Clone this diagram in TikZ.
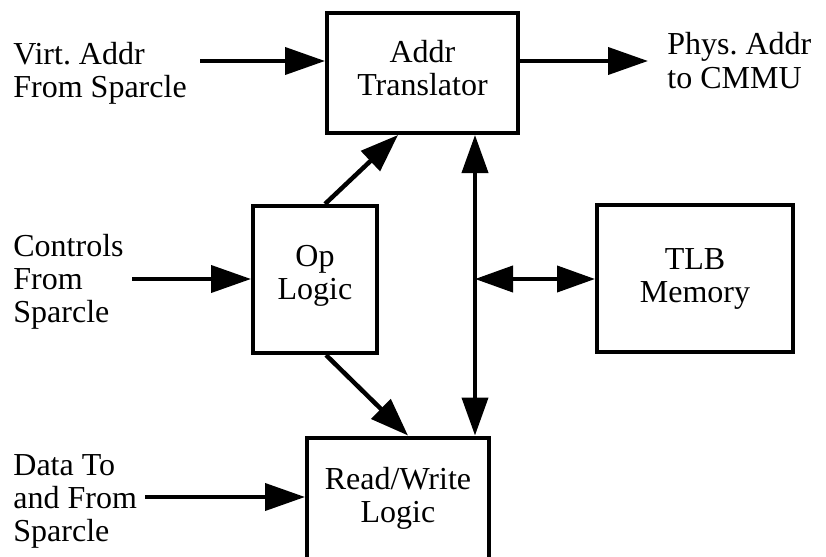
\documentclass[tikz,border=0pt]{standalone}
\usepackage{fontspec}
\setmainfont{Liberation Serif}
\usetikzlibrary{arrows.meta,calc}
\frenchspacing
\begin{document}
\begin{tikzpicture}[x=0.5pt,y=-0.5pt,
  every node/.style={font=\fontsize{16pt}{16.5pt}\selectfont},
  block/.style={draw,line width=2pt,align=center,inner sep=0pt},
  label/.style={align=left,inner sep=0pt,anchor=north west},
  arr/.style={line width=2pt,-{Triangle[length=20pt,width=13.5pt]}},
  arrtwo/.style={line width=2pt,{Triangle[length=19pt,width=13pt]}-{Triangle[length=19pt,width=13pt]}},
  diag/.style={line width=2.25pt,-{Triangle[length=19pt,width=13.5pt]}}]
  \useasboundingbox[fill=white] (0,0) rectangle (826,557);
  \clip (0,0) rectangle (826,557);

  % functional blocks (the trailing empty line lifts the text a little)
  \node[block,minimum width=95.5pt,minimum height=60pt] (addr) at (422.5,73) {Addr\\Translator\\[-11.5pt]\mbox{}};
  \node[block,minimum width=62pt,minimum height=73.5pt] (op) at (315,279.5) {Op\\Logic\\[-9pt]\mbox{}};
  \node[block,minimum width=98pt,minimum height=73.5pt] (tlb) at (695,278.5) {TLB\\Memory};
  \node[block,minimum width=91pt,minimum height=61pt] (rw) at (398,498.5) {Read/Write\\Logic};

  % external signal labels
  \node[label] (virt) at (13,42) {Virt. Addr\\From Sparcle};
  \node[label] (phys) at (667,32) {Phys. Addr\\[0.5pt]to CMMU};
  \node[label] (ctrl) at (13,234) {Controls\\From\\Sparcle};
  \node[label] (data) at (13,454) {Data To\\and From\\Sparcle};

  % free ends and the bus junction
  \coordinate (virtS) at (200,61);
  \coordinate (physE) at (648,61);
  \coordinate (ctrlS) at (132,279);
  \coordinate (dataS) at (145,497);
  \coordinate (bus) at (475,279);

  % connectors
  \draw[arr] (virtS) -- (virtS -| addr.west);
  \draw[arr] (physE -| addr.east) -- (physE);
  \draw[arr] (ctrlS) -- (ctrlS -| op.west);
  \draw[arr] (dataS) -- (dataS -| rw.west);
  \draw[diag] ($(op.north west)+(74,0)$) -- ($(addr.south west)+(73,0)$);
  \draw[diag] ($(op.south west)+(75,0)$) -- ($(rw.north west)+(103,0)$);
  \draw[arrtwo] (addr.south -| bus) -- (rw.north -| bus);
  \draw[arrtwo] (bus) -- (bus -| tlb.west);
\end{tikzpicture}
\end{document}
